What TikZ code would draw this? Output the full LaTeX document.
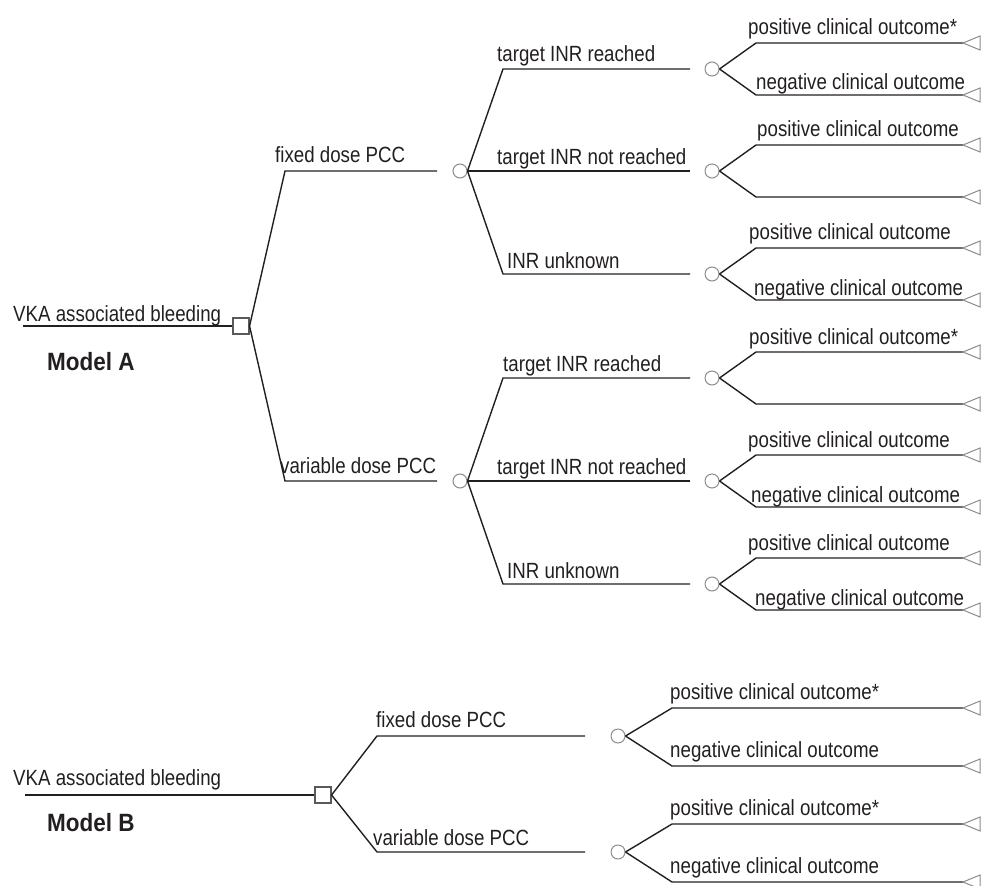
\documentclass[tikz,border=0pt]{standalone}
\usepackage{fontspec}
\setmainfont{Liberation Sans}[FakeStretch=0.85]
\newfontfamily\modelfont{Liberation Sans}[FakeStretch=0.9]
\definecolor{ink}{HTML}{231F20}
\definecolor{gry}{HTML}{8C8C8C}
\definecolor{sqc}{HTML}{5A5A5A}
\tikzset{
  ln/.style={draw=ink, line width=1.4pt, line join=miter},
  chance/.style={circle, draw=gry, line width=1pt, minimum size=14pt, inner sep=0pt},
  dec/.style={rectangle, draw=sqc, line width=1.1pt, minimum size=16pt, inner sep=0pt},
  tri/.style={draw=gry, line width=1pt, line join=miter},
  lbl/.style={anchor=base west, inner sep=0pt, text=ink, font=\fontsize{22}{24}\selectfont},
  mdl/.style={anchor=base west, inner sep=0pt, text=ink, font=\modelfont\bfseries\fontsize{25}{27}\selectfont}
}
\begin{document}
\begin{tikzpicture}[x=1pt, y=-1pt]
\useasboundingbox (0,0) rectangle (981,885);

% ---------------- Model A ----------------
\node[lbl] (Alab) at (13,321) {VKA associated bleeding};
\node[mdl] (Amod) at (47,370) {Model A};
\coordinate (A0) at (23,326);
\node[dec] (As) at (241,326) {};
\draw[ln] (A0) -- (As.west);

\coordinate (Af1) at (285,171); \coordinate (Af2) at (437,171);
\coordinate (Av1) at (285,481); \coordinate (Av2) at (437,481);
\draw[ln] (As.east) -- (Af1) -- (Af2);
\draw[ln] (As.east) -- (Av1) -- (Av2);
\node[lbl] (Aflab) at (275,163) {fixed dose PCC};
\node[lbl] (Avlab) at (280,473) {variable dose PCC};

\node[chance] (Cf) at (460,171) {};
\node[chance] (Cv) at (460,481) {};

% branches of fixed dose
\coordinate (Cf1a) at (503,69);  \coordinate (Cf1b) at (690,69);
\coordinate (Cf2b) at (690,171);
\coordinate (Cf3a) at (503,274); \coordinate (Cf3b) at (690,274);
\draw[ln] (Cf.east) -- (Cf1a) -- (Cf1b);
\draw[ln] (Cf.east) -- (Cf2b);
\draw[ln] (Cf.east) -- (Cf3a) -- (Cf3b);
\node[lbl] (Lf1) at (497,62) {target INR reached};
\node[lbl] (Lf2) at (497,165) {target INR not reached};
\node[lbl] (Lf3) at (507,268) {INR unknown};

% branches of variable dose
\coordinate (Cv1a) at (503,378); \coordinate (Cv1b) at (690,378);
\coordinate (Cv2b) at (690,481);
\coordinate (Cv3a) at (503,584); \coordinate (Cv3b) at (690,584);
\draw[ln] (Cv.east) -- (Cv1a) -- (Cv1b);
\draw[ln] (Cv.east) -- (Cv2b);
\draw[ln] (Cv.east) -- (Cv3a) -- (Cv3b);
\node[lbl] (Lv1) at (503,371) {target INR reached};
\node[lbl] (Lv2) at (497,474) {target INR not reached};
\node[lbl] (Lv3) at (507,578) {INR unknown};

% outcome chance nodes of Model A
\foreach \i/\yy/\pl/\ptx/\nl/\ntx in {
  1/69/{positive clinical outcome*}/748/{negative clinical outcome}/756,
  2/171/{positive clinical outcome}/757/{}/756,
  3/274/{positive clinical outcome}/749/{negative clinical outcome}/754,
  4/378/{positive clinical outcome*}/749/{}/754,
  5/481/{positive clinical outcome}/748/{negative clinical outcome}/751,
  6/584/{positive clinical outcome}/748/{negative clinical outcome}/755}
{
  \node[chance] (O\i) at (712,\yy) {};
  \coordinate (O\i-u) at (756,\yy-26);
  \coordinate (O\i-d) at (756,\yy+26);
  \coordinate (T\i-u) at (963,\yy-26);
  \coordinate (T\i-d) at (963,\yy+26);
  \draw[ln] (O\i.east) -- (O\i-u) -- (T\i-u);
  \draw[ln] (O\i.east) -- (O\i-d) -- (T\i-d);
  \draw[tri] (T\i-u) -- ++(17,-7) -- ++(0,14) -- cycle;
  \draw[tri] (T\i-d) -- ++(17,-7) -- ++(0,14) -- cycle;
  \node[lbl] (P\i) at (\ptx,\yy-34) {\pl};
  \node[lbl] (N\i) at (\ntx,\yy+21) {\nl};
}

% ---------------- Model B ----------------
\node[lbl] (Blab) at (13,785) {VKA associated bleeding};
\node[mdl] (Bmod) at (47,831) {Model B};
\coordinate (B0) at (25,795);
\node[dec] (Bs) at (323,795) {};
\draw[ln] (B0) -- (Bs.west);

\coordinate (Bf1) at (377,736); \coordinate (Bf2) at (585,736);
\coordinate (Bv1) at (377,852); \coordinate (Bv2) at (585,852);
\draw[ln] (Bs.east) -- (Bf1) -- (Bf2);
\draw[ln] (Bs.east) -- (Bv1) -- (Bv2);
\node[lbl] (Bflab) at (376,727) {fixed dose PCC};
\node[lbl] (Bvlab) at (373,845) {variable dose PCC};

\foreach \i/\yy in {1/736, 2/852}
{
  \node[chance] (Q\i) at (618,\yy) {};
  \coordinate (Q\i-u) at (672,\yy-28);
  \coordinate (Q\i-d) at (672,\yy+30);
  \coordinate (R\i-u) at (963,\yy-28);
  \coordinate (R\i-d) at (963,\yy+30);
  \draw[ln] (Q\i.east) -- (Q\i-u) -- (R\i-u);
  \draw[ln] (Q\i.east) -- (Q\i-d) -- (R\i-d);
  \draw[tri] (R\i-u) -- ++(17,-7) -- ++(0,14) -- cycle;
  \draw[tri] (R\i-d) -- ++(17,-7) -- ++(0,14) -- cycle;
  \node[lbl] (BP\i) at (670,\yy-37) {positive clinical outcome*};
  \node[lbl] (BN\i) at (670,\yy+21) {negative clinical outcome};
}
\end{tikzpicture}
\end{document}
